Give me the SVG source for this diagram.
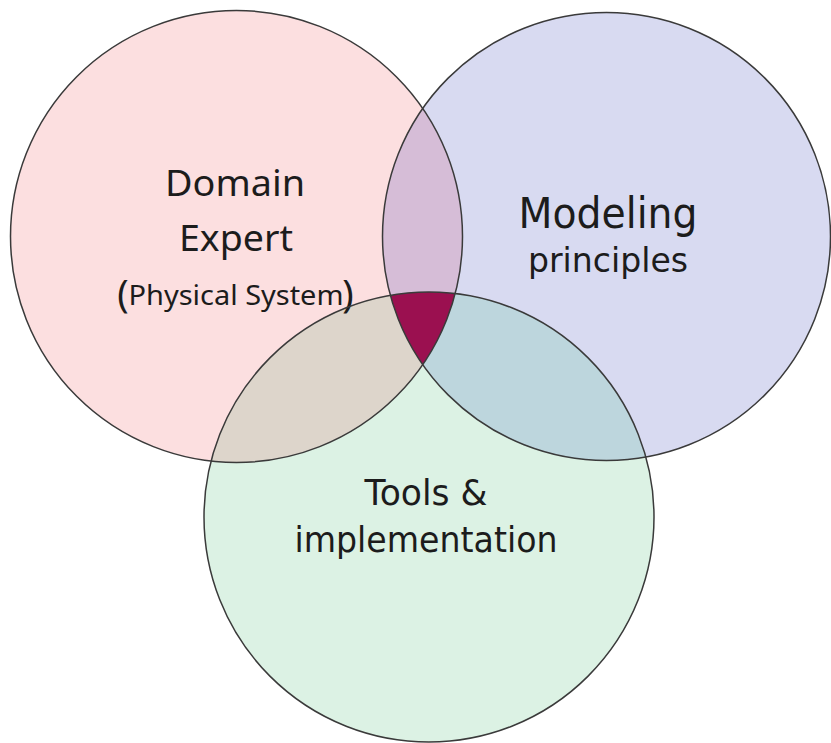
<svg xmlns="http://www.w3.org/2000/svg" width="831" height="743" viewBox="0 0 831 743">
<defs>
<clipPath id="cRed"><circle cx="236.5" cy="236.5" r="226"/></clipPath>
<clipPath id="cBlue"><circle cx="606.5" cy="236.5" r="224"/></clipPath>
<style>
.ol{fill:none;stroke:#3a3a3a;stroke-width:1.5}
.t{font-family:"Noto Sans","Open Sans",sans-serif;fill:#1c1c1c;text-anchor:middle}
.m{font-family:"DejaVu Sans","Noto Sans",sans-serif;fill:#1c1c1c;text-anchor:middle}
</style>
</defs>
<rect width="831" height="743" fill="#ffffff"/>
<g id="fills">
<circle cx="236.5" cy="236.5" r="226" fill="#fcdfe0"/>
<circle cx="606.5" cy="236.5" r="224" fill="#d8daf1"/>
<circle cx="429" cy="517" r="225" fill="#dcf2e4"/>
<circle cx="606.5" cy="236.5" r="224" fill="#d6bdd7" clip-path="url(#cRed)"/>
<circle cx="429" cy="517" r="225" fill="#ddd5cb" clip-path="url(#cRed)"/>
<circle cx="429" cy="517" r="225" fill="#bdd6dd" clip-path="url(#cBlue)"/>
<g clip-path="url(#cRed)"><circle cx="429" cy="517" r="225" fill="#9b1050" clip-path="url(#cBlue)"/></g>
</g>
<g id="node-domain">
<circle class="ol" cx="236.5" cy="236.5" r="226"/>
<text class="t" x="235" y="196" font-size="37" textLength="140" lengthAdjust="spacingAndGlyphs">Domain</text>
<text class="t" x="236" y="251" font-size="37" textLength="114" lengthAdjust="spacingAndGlyphs">Expert</text>
<text class="t" x="123" y="307" font-size="38">(</text>
<text class="t" x="236" y="305" font-size="28" textLength="215" lengthAdjust="spacingAndGlyphs">Physical System</text>
<text class="t" x="348" y="307" font-size="38">)</text>
</g>
<g id="node-modeling">
<circle class="ol" cx="606.5" cy="236.5" r="224"/>
<text class="m" x="608" y="228" font-size="43" textLength="179" lengthAdjust="spacingAndGlyphs">Modeling</text>
<text class="m" x="608" y="272" font-size="34" textLength="160" lengthAdjust="spacingAndGlyphs">principles</text>
</g>
<g id="node-tools">
<circle class="ol" cx="429" cy="517" r="225"/>
<text class="m" x="426" y="505" font-size="35" textLength="123" lengthAdjust="spacingAndGlyphs">Tools &amp;</text>
<text class="m" x="426" y="552" font-size="35" textLength="263" lengthAdjust="spacingAndGlyphs">implementation</text>
</g>
<g id="connectors"/>
</svg>
